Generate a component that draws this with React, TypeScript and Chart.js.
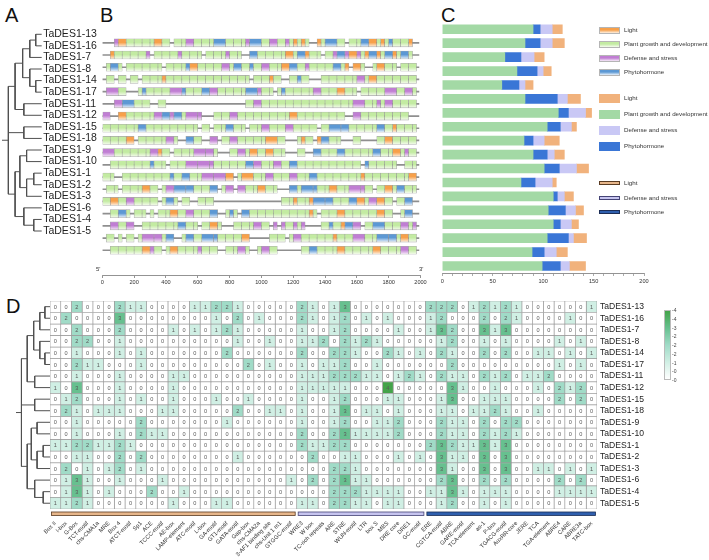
import React, { useEffect, useRef } from "react";
import { Chart, registerables } from "chart.js";

Chart.register(...registerables);

const FONT = "'Liberation Sans', Arial, Helvetica, sans-serif";

// ---------- genes (shared row order of all panels) ----------
const geneOrder = [
  "TaDES1-13", "TaDES1-16", "TaDES1-7", "TaDES1-8", "TaDES1-14", "TaDES1-17",
  "TaDES1-11", "TaDES1-12", "TaDES1-15", "TaDES1-18", "TaDES1-9", "TaDES1-10",
  "TaDES1-1", "TaDES1-2", "TaDES1-3", "TaDES1-6", "TaDES1-4", "TaDES1-5",
];

// phylogeny: [node depth (0 = root stub start, 1 = tips), ...children]; tips are row indices
type TreeNode = number | any[];
const geneTree: TreeNode = [
  0.16,
  [0.33, [0.52, [0.7, [0.85, 0, 1], 2], [0.7, 3, [0.85, 4, 5]]], [0.55, 6, 7]],
  [0.55, 8, 9],
  [0.33, [0.45, [0.62, 10, 11], [0.62, [0.8, 12, 13], 14]], [0.55, 15, [0.8, 16, 17]]],
];

// ---------- panel B: promoter element tracks (run-length, 25 bp per bin) ----------
// - = bare sequence, g = plant growth, o = light, p = defense/stress, b = phytohormone
const BIN_BP = 25;
const promoterTracks = [
  "3- p 2o 7g 2o 2g - 3g 2p 5g 3b 5g p 3b 2g 2p 2g p g o g o g 2- o g 3b 2g - 3g 2b 2o g o g b 4g o 2-",
  "2- o 8g p - 6g p 5g - 5g p 3g 2- 2b 7g 2o g 2b o 3g - 2g p 2b p 2o p g o 2b o g 2b o g 2b g 2-",
  "- g 2b g - 9g - 5g b 2o 6g 2p g 2b 2g b 2g 2p 3g 2o 2b 2g p 6g 2b g o - 2o g 2- g 2o 3g - 4g -",
  "- 2g - 2g - 2g - 5g o 21g - 4g o 2g 2- 2g b 2g 3- 9g 2p g 2o 10g -",
  "- 3p 2g 3- g b 6g 3p b 4g 2b 2p 7g 3b p 3g - g b 7g 2p 4g 2o 3g - 6g 3p 2g 2p g -",
  "3- 2p 3b 4g 2- 2g 20- 2g 2p 23g 3p 3g p g 2p 6g -",
  "2p 2- 2o 7g 2p 2b p 2b g 4p 3- 4g 2p 13g 2o 12g 2- 2p 12g 3-",
  "9g 2b 13g - 2g - 3g 2b 3g - 3g 2p 4g 2p 6g - 2g 5b 7g 2b 2g o 5g -",
  "6g 2o - 7g 2p g 2- 2b 2g 2- 2p - 2g 2p 7g 3o 2g 3- g o 2g - o 2b 3g 3- 2g 4- 2g 2o 6g -",
  "3p 9g 2p o 2g - 5g 5p g 3- 2g 2p g 2o 2g 2o 3g 3- 2g 2- 2b 4g 2b 7g 2b 3g 2o g p 2g -",
  "2- 10g b 3g - 4g 7p 8g 2b 2p 3g 2p 2g 2b 16g - b 7g 2- 3g -",
  "3g 2- 12g b 2g 2b 3g 6p 2o - g 3o 3g 2p 4g 2p 3g 2b 11g o 11g 2o -",
  "- 3g - 5g 2o 2g - g 2p 5b 4g 2b - g 2p - 2p 3g 2o 3g 3- 2b g 4b 3g 2o 3g 4p 2g - 2g 2o g 2b 3g -",
  "2g 2o 2g 2p 6g - g 2b g - 2g 2- 4g 17- 3g o 3g o 5b 4g 2b 2o g 2p 2o 2g - 2g 2b 2-",
  "2- 2g 2b g - 3g - g - 3g 2o 2g 2p 4g 2b 2- g b g - 2b 15g o g - 4g 2o 8g 2o 2g 2- g 2b 2-",
  "2- 2p 2g 2p 2- 9g 2b 3g - 2g 2o g 3- 5g 2p 2g - p - p 2g p g p 4- 2g b 2g o 2b 2p - 2g 3b 4g 2p g p -",
  "- 2g - g - 2g - g 5p g 2b 2- g 2b 2g 4b 6g 2o 5- 4g - g 2p 8g o 4g 3p 3g 5b g 2o 2g -",
  "2- 8g 2o p 2g - g 2o 5g p 4g 2- 3g 2p g 2- g 2p 2g 6- 2g 2b 5g 2o 7g 2o 5g 2p 2g -",
];
const promoterTicks = [0, 200, 400, 600, 800, 1000, 1200, 1400, 1600, 1800, 2000];

// ---------- panel C: element counts per category ----------
const plantGrowth = [90, 82, 62, 74, 59, 82, 115, 104, 81, 90, 101, 78, 110, 105, 110, 104, 89, 99];
const phytohormone = [7, 15, 16, 20, 17, 32, 10, 13, 9, 14, 15, 14, 4, 17, 7, 21, 12, 18];
const defenseStress = [12, 12, 13, 6, 6, 10, 17, 11, 11, 7, 17, 17, 7, 10, 11, 5, 12, 9];
const lightResponsive = [10, 12, 10, 8, 8, 13, 6, 5, 15, 10, 12, 4, 9, 8, 7, 13, 11, 16];

// ---------- panel D: cis-element counts ----------
const elementNames = [
  "Box II", "I-box", "G-Box", "TCT-motif", "chs-CMA1a", "MRE", "Box 4", "ATCT-motif", "Sp1", "ACE",
  "TCCC-motif", "AE-box", "LAMP-element", "ATC-motif", "L-box", "GA-motif", "GT1-motif", "GATA-motif",
  "Gap-box", "chs-CMA2a", "3-AF1 binding site", "chs-Unit 1 m1", "GTGGC-motif",
  "WRE3", "W box", "TC-rich repeats", "ARE", "STRE", "WUN-motif", "LTR", "box S", "MBS", "DRE core",
  "DRE1", "GC-motif",
  "ERE", "CGTCA-motif", "ABRE", "GARE-motif", "TCA-element", "as-1", "P-box", "TGACG-motif",
  "AuxRR-core", "JERE", "TCA", "TGA-element", "ABRE4", "CARE", "ABRE3a", "TATC-box",
];
const elementGroupSizes = [23, 12, 16];
const elementCountRows = [
  "002000211000011221000002101300000002220121210000001",
  "020000300000000102010002101201010001200020210000100",
  "002000200001010121000001001200001001320031300000000",
  "002200100000000001001001120212100000120010100001010",
  "001000101000000020000002002210021010210020200110101",
  "002110001000000000201001011200100000020000000001010",
  "001000100001100000000001112221101210211021201120000",
  "103000100001000000000001111100040000031001000102120",
  "012000101001000100100001001200011000130011100002020",
  "021011100011000002001101001301101000110112100100000",
  "001000002000000010000001001200112000211020220000000",
  "001000102110000000000002002311112000211021210000000",
  "112211210000000000000002112200000002321131300000000",
  "001100202000000001000000200110001010311030300000000",
  "020101201000000000000000002210000000310030300110101",
  "013100100010000000000010202311000000230020200002020",
  "013101000200100000000000002221111001131011100001111",
  "112100000001000110000001102211011000120010100000000",
];
const colorbarLabels = ["4", "4", "3", "2", "2", "2", "1", "0", "0"];

// ---------- styling ----------
const heatPalette = ["#ffffff", "#d0efe4", "#a0dbc7", "#67c08f", "#43a349"];
const trackColors: Record<string, [string, string]> = {
  g: ["#c3eba2", "#f5fbee"],
  o: ["#f7a04a", "#fdf0e2"],
  p: ["#c07ed3", "#f6eaf8"],
  b: ["#5c98d4", "#ebf3fb"],
};
const barColors = { green: "#a3d9a5", blue: "#3a76d6", lavender: "#c9c8f5", orange: "#f1b27c" };
const groupBarStyles = [
  { fill: "#e7b68a", stroke: "#5a3b22" },
  { fill: "#c6c4ef", stroke: "#454476" },
  { fill: "#2f5fae", stroke: "#1b2d55" },
];

// ---------- helpers ----------
function treeSegments(tree: TreeNode) {
  const pts: { x: number | null; y: number | null }[] = [];
  const walk = (node: TreeNode): number => {
    if (typeof node === "number") return node;
    const [h, ...kids] = node as any[];
    const ys = kids.map((k: TreeNode) => {
      const y = walk(k);
      const kx = typeof k === "number" ? 1 : (k as any[])[0];
      pts.push({ x: h, y }, { x: kx, y }, { x: null, y: null });
      return y;
    });
    const y0 = Math.min(...ys);
    const y1 = Math.max(...ys);
    pts.push({ x: h, y: y0 }, { x: h, y: y1 }, { x: null, y: null });
    return (y0 + y1) / 2;
  };
  const rootY = walk(tree);
  pts.push({ x: 0, y: rootY }, { x: (tree as any[])[0], y: rootY });
  return pts;
}

function expandTrack(rle: string): string[] {
  const out: string[] = [];
  rle.trim().split(/\s+/).forEach((tok) => {
    const m = tok.match(/^(\d*)([-gopb])$/);
    if (!m) return;
    const n = m[1] ? parseInt(m[1], 10) : 1;
    for (let i = 0; i < n; i++) out.push(m[2]);
  });
  return out;
}

function trackBoxes(kind: string) {
  const boxes: { x: [number, number]; y: number }[] = [];
  promoterTracks.forEach((rle, row) => {
    const bins = expandTrack(rle);
    let i = 0;
    while (i < bins.length) {
      if (bins[i] !== kind) { i++; continue; }
      let j = i;
      while (j < bins.length && bins[j] === kind) j++;
      const chunk = kind === "g" ? 2 : 3;
      for (let s = i; s < j; s += chunk) {
        const e = Math.min(j, s + chunk);
        boxes.push({ x: [s * BIN_BP, e * BIN_BP], y: row });
      }
      i = j;
    }
  });
  return boxes;
}

const dendroDataset = (tree: TreeNode) => ({
  data: treeSegments(tree),
  showLine: true,
  borderColor: "#505050",
  borderWidth: 1,
  pointRadius: 0,
  spanGaps: false,
  tension: 0,
  clip: false as any,
});

const baseOptions = {
  responsive: false,
  animation: false as const,
  devicePixelRatio: 1,
  events: [] as any[],
  plugins: { legend: { display: false }, tooltip: { enabled: false } },
};

const abs = (left: number, top: number, width: number, height: number): React.CSSProperties => ({
  position: "absolute", left, top, width, height,
});

// value labels + element-group underline bars for the heatmap
const heatmapDecor = {
  id: "heatmapDecor",
  afterDatasetsDraw(chart: any) {
    const ctx = chart.ctx as CanvasRenderingContext2D;
    ctx.save();
    ctx.font = `5.6px ${FONT}`;
    ctx.fillStyle = "#5a5a5a";
    ctx.textAlign = "center";
    ctx.textBaseline = "middle";
    chart.data.datasets.forEach((_: any, c: number) => {
      const meta = chart.getDatasetMeta(c);
      meta.data.forEach((el: any, r: number) => {
        const p = el.getProps(["x", "y", "base"], true);
        ctx.fillText(elementCountRows[r][c], (p.x + p.base) / 2, p.y + 0.5);
      });
    });
    const xs = chart.scales.x;
    const top = chart.chartArea.bottom + 3;
    let start = 0;
    elementGroupSizes.forEach((n, g) => {
      const x0 = xs.getPixelForValue(start) + 1.5;
      const x1 = xs.getPixelForValue(start + n) - 1.5;
      ctx.fillStyle = groupBarStyles[g].fill;
      ctx.strokeStyle = groupBarStyles[g].stroke;
      ctx.lineWidth = 0.8;
      ctx.fillRect(x0, top, x1 - x0, 3.5);
      ctx.strokeRect(x0, top, x1 - x0, 3.5);
      start += n;
    });
    ctx.restore();
  },
};

export default function App() {
  const aRef = useRef<HTMLCanvasElement>(null);
  const bRef = useRef<HTMLCanvasElement>(null);
  const cRef = useRef<HTMLCanvasElement>(null);
  const dTreeRef = useRef<HTMLCanvasElement>(null);
  const dHeatRef = useRef<HTMLCanvasElement>(null);

  useEffect(() => {
    const charts: Chart[] = [];
    const safe = (make: () => Chart) => {
      try { charts.push(make()); } catch (e) { console.error(e); }
    };

    // A: phylogenetic tree with gene names
    safe(() => new Chart(aRef.current!, {
      type: "scatter",
      data: { datasets: [dendroDataset(geneTree) as any] },
      options: {
        ...baseOptions,
        layout: { padding: { left: 2, top: 8.5, bottom: 13.2, right: 0 } },
        scales: {
          x: { type: "linear", min: 0, max: 1, display: false },
          y: {
            type: "linear", min: -0.5, max: 17.5, reverse: true, position: "right",
            afterBuildTicks: (s: any) => { s.ticks = geneOrder.map((_, i) => ({ value: i })); },
            afterFit: (s: any) => { s.width = 63.3; },
            ticks: {
              autoSkip: false, padding: 1.5, color: "#1e1e1e",
              font: { size: 10.5, family: FONT },
              callback: (_v: any, i: number) => geneOrder[i],
            },
            grid: { display: false, drawTicks: false },
            border: { display: false },
          },
        },
      } as any,
    }));

    // B: promoter element map
    const gradCache: Record<string, CanvasGradient> = {};
    const boxFill = (kind: string) => (ctx: any) => {
      const ys = ctx.chart.scales?.y;
      const raw = ctx.raw;
      if (!ys || !raw || typeof raw.y !== "number") return trackColors[kind][0];
      const yc = ys.getPixelForValue(raw.y);
      if (!Number.isFinite(yc)) return trackColors[kind][0];
      const key = kind + Math.round(yc * 10);
      if (!gradCache[key]) {
        const g = ctx.chart.ctx.createLinearGradient(0, yc - 4, 0, yc + 4);
        g.addColorStop(0, trackColors[kind][0]);
        g.addColorStop(0.45, trackColors[kind][0]);
        g.addColorStop(1, trackColors[kind][1]);
        gradCache[key] = g;
      }
      return gradCache[key];
    };
    const boxDataset = (kind: string) => ({
      data: trackBoxes(kind),
      backgroundColor: boxFill(kind),
      borderColor: "rgba(140,140,140,0.75)",
      borderWidth: 0.6,
      borderSkipped: false,
      barThickness: 8,
      grouped: false,
      order: 0,
    });
    safe(() => new Chart(bRef.current!, {
      type: "bar",
      data: {
        datasets: [
          {
            data: promoterTracks.map((_, r) => ({ x: [0, 1990], y: r })),
            backgroundColor: "#8f8f8f",
            barThickness: 1,
            grouped: false,
            order: 1,
          } as any,
          boxDataset("g") as any,
          boxDataset("o") as any,
          boxDataset("p") as any,
          boxDataset("b") as any,
        ],
      },
      options: {
        ...baseOptions,
        indexAxis: "y",
        layout: { padding: { left: 7.3, right: 14.5, top: 6.2, bottom: 3 } },
        scales: {
          y: { type: "linear", min: -0.5, max: 18, reverse: true, display: false },
          x: {
            type: "linear", min: 0, max: 2000,
            afterBuildTicks: (s: any) => { s.ticks = promoterTicks.map((v) => ({ value: v })); },
            afterFit: (s: any) => { s.height = 20; },
            ticks: {
              color: "#333", padding: 1.5, font: { size: 5.6, family: FONT }, maxRotation: 0,
              callback: (v: any) => String(v),
            },
            grid: { drawOnChartArea: false, tickLength: 3, color: "#777", lineWidth: 0.8 },
            border: { color: "#777", width: 0.8 },
          },
        },
      } as any,
    }));

    // C: stacked category totals
    safe(() => new Chart(cRef.current!, {
      type: "bar",
      data: {
        labels: geneOrder,
        datasets: [
          { label: "Plant growth and development", data: plantGrowth, backgroundColor: barColors.green },
          { label: "Phytohormone", data: phytohormone, backgroundColor: barColors.blue },
          { label: "Defense and stress", data: defenseStress, backgroundColor: barColors.lavender },
          { label: "Light", data: lightResponsive, backgroundColor: barColors.orange },
        ].map((d) => ({ ...d, barThickness: 9, borderWidth: 0 })),
      },
      options: {
        ...baseOptions,
        indexAxis: "y",
        layout: { padding: { left: 10.3, right: 43, top: 7.3, bottom: 3 } },
        scales: {
          y: { stacked: true, display: false },
          x: {
            stacked: true, type: "linear", min: 0, max: 200,
            afterFit: (s: any) => { s.height = 22; },
            ticks: {
              stepSize: 10, autoSkip: false, maxRotation: 0, color: "#333", padding: 2,
              font: { size: 5.6, family: FONT },
              callback: (v: any) => (Number(v) % 50 === 0 ? String(v) : ""),
            },
            grid: { drawOnChartArea: false, tickLength: 3, color: "#888", lineWidth: 0.7 },
            border: { color: "#777", width: 0.8 },
          },
        },
      } as any,
    }));

    // D: tree beside the heatmap
    safe(() => new Chart(dTreeRef.current!, {
      type: "scatter",
      data: { datasets: [dendroDataset(geneTree) as any] },
      options: {
        ...baseOptions,
        layout: { padding: { left: 16, right: 2, top: 10.9, bottom: 11 } },
        scales: {
          x: { type: "linear", min: 0, max: 1, display: false },
          y: { type: "linear", min: -0.5, max: 17.5, reverse: true, display: false },
        },
      } as any,
    }));

    // D: heatmap as one stacked unit-bar per element column
    const rowsNum = elementCountRows.map((s) => s.split("").map(Number));
    safe(() => new Chart(dHeatRef.current!, {
      type: "bar",
      data: {
        labels: geneOrder,
        datasets: elementNames.map((name, c) => ({
          label: name,
          data: geneOrder.map(() => 1),
          backgroundColor: rowsNum.map((r) => heatPalette[r[c]]),
          borderColor: "#9c9c9c",
          borderWidth: 0.7,
          borderSkipped: false,
          barPercentage: 1,
          categoryPercentage: 1,
        })),
      },
      options: {
        ...baseOptions,
        indexAxis: "y",
        layout: { padding: { left: 50, right: 0, top: 10.9, bottom: 0 } },
        scales: {
          y: {
            stacked: true, position: "right",
            afterFit: (s: any) => { s.width = 112; },
            ticks: { autoSkip: false, padding: 3, color: "#1e1e1e", font: { size: 8.6, family: FONT } },
            grid: { display: false, drawTicks: false },
            border: { display: false },
          },
          x: {
            stacked: true, type: "linear", min: 0, max: elementNames.length,
            afterBuildTicks: (s: any) => { s.ticks = elementNames.map((_, i) => ({ value: i + 0.5 })); },
            afterFit: (s: any) => { s.height = 51; },
            ticks: {
              autoSkip: false, minRotation: 45, maxRotation: 45, padding: 11, color: "#333",
              font: { size: 5.8, family: FONT },
              callback: (_v: any, i: number) => elementNames[i],
            },
            grid: { display: false, drawTicks: false },
            border: { display: false },
          },
        },
      } as any,
      plugins: [heatmapDecor],
    }));

    return () => charts.forEach((c) => c.destroy());
  }, []);

  const letter = (t: string, left: number, top: number) => (
    <div style={{ position: "absolute", left, top, fontSize: 20, lineHeight: "20px", color: "#111", fontFamily: FONT }}>{t}</div>
  );
  const legendText = (t: string, top: number) => (
    <div style={{ position: "absolute", left: 624, top: top - 4, fontSize: 6.2, lineHeight: "8px", color: "#333", fontFamily: FONT, whiteSpace: "nowrap" }}>{t}</div>
  );
  const gradSwatch = (kind: string, top: number) => (
    <div style={{ ...abs(599, top - 3.5, 21, 7), boxSizing: "border-box", border: "0.6px solid #b5b5b5",
      background: `linear-gradient(${trackColors[kind][0]} 0%, ${trackColors[kind][0]} 40%, ${trackColors[kind][1]} 100%)` }} />
  );
  const solidSwatch = (color: string, top: number) => (
    <div style={{ ...abs(599, top - 4.5, 21, 9), background: color }} />
  );
  const outlineSwatch = (g: number, top: number) => (
    <div style={{ ...abs(599, top - 2, 21, 4), boxSizing: "border-box", background: groupBarStyles[g].fill, border: `0.8px solid ${groupBarStyles[g].stroke}` }} />
  );

  return (
    <div style={{ position: "absolute", left: 0, top: 0, width: 709, height: 560, background: "#fff", overflow: "hidden", fontFamily: FONT }}>
      {letter("A", 5, 5)}
      {letter("B", 100, 5)}
      {letter("C", 441, 5)}
      {letter("D", 6, 296)}

      <canvas ref={aRef} width={105} height={230} style={abs(0, 20, 105, 230)} />
      <canvas ref={bRef} width={340} height={280} style={abs(95, 18, 340, 280)} />
      <div style={{ position: "absolute", left: 96, top: 266, fontSize: 6, color: "#333" }}>5'</div>
      <div style={{ position: "absolute", left: 419, top: 266, fontSize: 6, color: "#333" }}>3'</div>
      <canvas ref={cRef} width={255} height={283} style={abs(432, 15, 255, 283)} />

      {gradSwatch("o", 30.3)}{legendText("Light", 30.3)}
      {gradSwatch("g", 44)}{legendText("Plant growth and development", 44)}
      {gradSwatch("p", 58)}{legendText("Defense and stress", 58)}
      {gradSwatch("b", 72)}{legendText("Phytohormone", 72)}

      {solidSwatch(barColors.orange, 98.3)}{legendText("Light", 98.3)}
      {solidSwatch(barColors.green, 114)}{legendText("Plant growth and development", 114)}
      {solidSwatch(barColors.lavender, 130.3)}{legendText("Defense and stress", 130.3)}
      {solidSwatch(barColors.blue, 146.3)}{legendText("Phytohormone", 146.3)}

      {outlineSwatch(0, 183)}{legendText("Light", 183)}
      {outlineSwatch(1, 197.7)}{legendText("Defense and stress", 197.7)}
      {outlineSwatch(2, 212.3)}{legendText("Phytohormone", 212.3)}

      <canvas ref={dHeatRef} width={709} height={270} style={abs(0, 290, 709, 270)} />
      <canvas ref={dTreeRef} width={52} height={230} style={abs(0, 290, 52, 230)} />

      <div style={{ ...abs(664, 310, 7, 70), boxSizing: "border-box", border: "0.6px solid #bbb",
        background: `linear-gradient(${heatPalette[4]} 0%, ${heatPalette[3]} 25%, ${heatPalette[2]} 50%, ${heatPalette[1]} 75%, #ffffff 100%)` }} />
      {colorbarLabels.map((t, i) => (
        <div key={i} style={{ position: "absolute", left: 672, top: 310 + i * 8.75 - 3, fontSize: 5, lineHeight: "6px", color: "#444", whiteSpace: "nowrap" }}>
          {"-" + t}
        </div>
      ))}
    </div>
  );
}
